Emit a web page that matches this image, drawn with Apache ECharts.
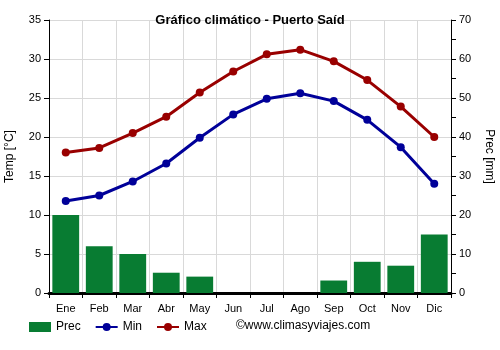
<!DOCTYPE html>
<html><head><meta charset="utf-8">
<script src="https://cdn.jsdelivr.net/npm/echarts@6/dist/echarts.min.js"></script>
<style>html,body{margin:0;padding:0;background:#fff}#c{width:500px;height:350px}</style>
</head><body><div id="c"></div>
<script>
const months = ['Ene','Feb','Mar','Abr','May','Jun','Jul','Ago','Sep','Oct','Nov','Dic'];
const prec = [20, 12, 10, 5.2, 4.2, 0, 0, 0, 3.2, 8, 7, 15];
const tMin = [11.8, 12.5, 14.3, 16.6, 19.9, 22.9, 24.9, 25.6, 24.6, 22.2, 18.7, 14.0];
const tMax = [18.0, 18.6, 20.5, 22.6, 25.7, 28.4, 30.6, 31.2, 29.7, 27.3, 23.9, 20.0];
const font = 'Liberation Sans, Arial, sans-serif';
const chart = echarts.init(document.getElementById('c'));
chart.setOption({
  animation: false,
  textStyle: {fontFamily: font},
  title: {text: 'Gráfico climático - Puerto Saíd', left: 'center', top: 9,
    textStyle: {fontSize: 13, fontWeight: 'bold', color: '#000', fontFamily: font}},
  grid: {left: 49, right: 49, top: 20, bottom: 57, containLabel: false, outerBoundsMode: 'none'},
  legend: {left: 24, top: 316, itemWidth: 22, itemHeight: 10, itemGap: 14,
    textStyle: {fontSize: 12, color: '#000', fontFamily: font},
    data: [{name: 'Prec', icon: 'rect'}, {name: 'Min'}, {name: 'Max'}]},
  graphic: [{type: 'text', left: 236, top: 320,
    style: {text: '©www.climasyviajes.com', fontSize: 12, fill: '#000', fontFamily: font}}],
  xAxis: {type: 'category', data: months, boundaryGap: true,
    axisLine: {lineStyle: {color: '#000', width: 3}},
    axisTick: {show: true, alignWithLabel: false, lineStyle: {color: '#000'}},
    axisLabel: {color: '#000', fontSize: 11, margin: 10},
    splitLine: {show: true, lineStyle: {color: '#d9d9d9'}}},
  yAxis: [
    {type: 'value', min: 0, max: 35, interval: 5, name: 'Temp [°C]', nameLocation: 'middle', nameGap: 33,
      nameTextStyle: {fontSize: 12, color: '#000'},
      axisLine: {show: true, lineStyle: {color: '#000'}},
      axisTick: {show: true, lineStyle: {color: '#000'}},
      axisLabel: {color: '#000', fontSize: 11},
      splitLine: {show: true, lineStyle: {color: '#d9d9d9'}}},
    {type: 'value', min: 0, max: 70, interval: 5, name: 'Prec [mm]', nameLocation: 'middle', nameGap: 32,
      nameRotate: -90,
      nameTextStyle: {fontSize: 12, color: '#000'},
      axisLine: {show: true, lineStyle: {color: '#000'}},
      axisTick: {show: true, length: 5, lineStyle: {color: '#000'}},
      axisLabel: {color: '#000', fontSize: 11, formatter: v => (v % 10 === 0 ? String(v) : '')},
      splitLine: {show: false}}
  ],
  series: [
    {name: 'Prec', type: 'bar', yAxisIndex: 1, data: prec, barCategoryGap: '20%',
      itemStyle: {color: '#087c32'}, z: 2},
    {name: 'Min', type: 'line', yAxisIndex: 0, data: tMin, symbol: 'circle', symbolSize: 8,
      lineStyle: {color: '#000099', width: 3}, itemStyle: {color: '#000099'}, z: 3},
    {name: 'Max', type: 'line', yAxisIndex: 0, data: tMax, symbol: 'circle', symbolSize: 8,
      lineStyle: {color: '#990000', width: 3}, itemStyle: {color: '#990000'}, z: 3}
  ]
});
</script></body></html>
